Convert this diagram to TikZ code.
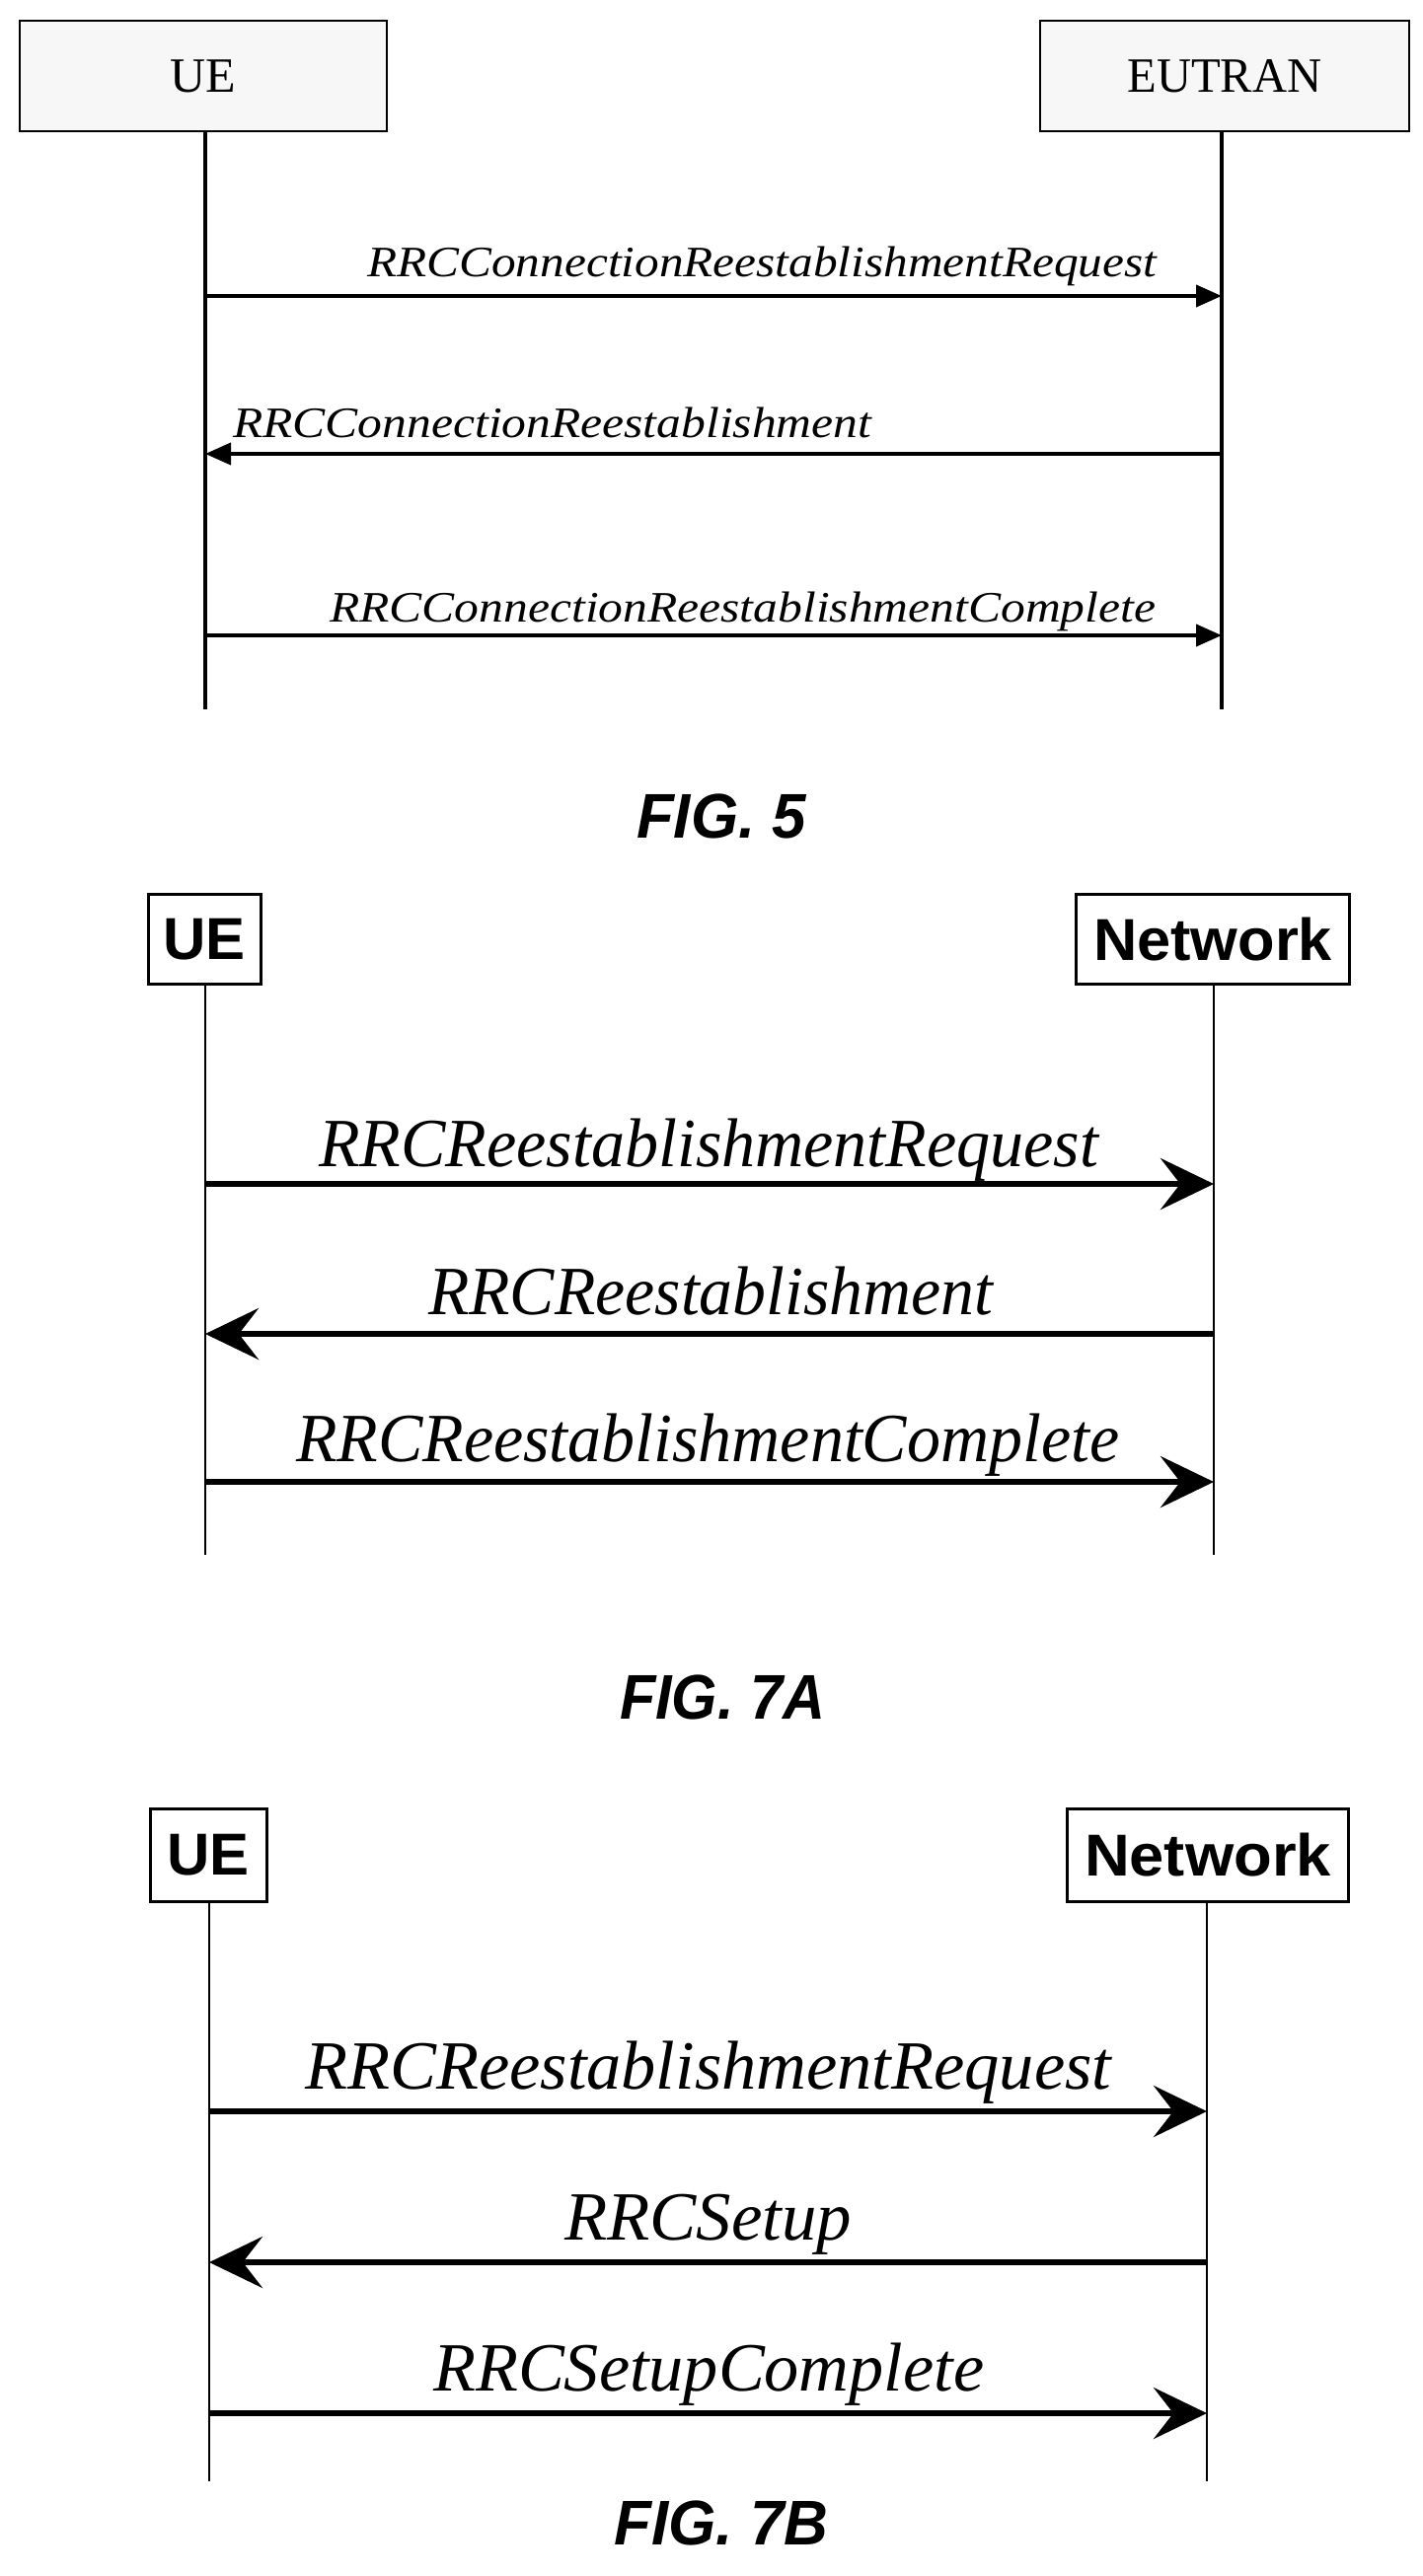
\documentclass[tikz,border=0pt]{standalone}
\usepackage{fontspec}
\setmainfont{Liberation Serif}
\setsansfont{Liberation Sans}
\usetikzlibrary{arrows.meta}
\newcommand\fitw[2]{\resizebox{#1pt}{\height}{#2}}
\begin{document}
\begin{tikzpicture}[x=1pt,y=-1pt,
  hbox5/.style={draw,line width=2pt,fill=gray!6,inner sep=0pt,font=\fontsize{50}{50}\selectfont},
  hbox7/.style={draw,line width=3pt,fill=white,inner sep=0pt,font=\sffamily\bfseries\fontsize{60}{60}\selectfont},
  life5/.style={line width=3.5pt},
  life7/.style={line width=2pt},
  msg5/.style={line width=4pt,-{Triangle[length=26pt,width=22pt]}},
  msg7/.style={line width=6pt,-{Stealth[length=54pt,width=52pt,inset=20pt]}},
  lab/.style={anchor=base west,inner sep=0pt},
  fig/.style={font=\sffamily\bfseries\itshape\fontsize{64}{64}\selectfont,inner sep=0pt}]
\useasboundingbox (0,0) rectangle (1441,2611);
% ---------- FIG 5
\node[hbox5,minimum width=372pt,minimum height=112pt] (ue5) at (206,77) {UE};
\node[hbox5,minimum width=374pt,minimum height=112pt] (eu5) at (1241,77) {\fitw{197}{EUTRAN}};
\coordinate (ue5e) at (208,719);
\coordinate (eu5e) at (1238,719);
\draw[life5] (208,133) -- (ue5e);
\draw[life5] (1238,133) -- (eu5e);
\coordinate (a1s) at (208,300); \coordinate (a1e) at (1238,300);
\coordinate (a2s) at (1238,460); \coordinate (a2e) at (208,460);
\coordinate (a3s) at (208,644); \coordinate (a3e) at (1238,644);
\draw[msg5] (a1s) -- (a1e);
\draw[msg5] (a2s) -- (a2e);
\draw[msg5] (a3s) -- (a3e);
\begin{scope}[font=\itshape\fontsize{44}{44}\selectfont]
\node[lab] (l1) at (372,280) {\fitw{800}{RRCConnectionReestablishmentRequest}};
\node[lab] (l2) at (236,443) {\fitw{647}{RRCConnectionReestablishment}};
\node[lab] (l3) at (334,630) {\fitw{837}{RRCConnectionReestablishmentComplete}};
\end{scope}
\node[fig] (f5) at (731,827) {\fitw{172}{FIG. 5}};
% ---------- FIG 7A
\node[hbox7,minimum width=114pt,minimum height=91pt] (ue7a) at (207,952) {UE};
\node[hbox7,minimum width=277pt,minimum height=91pt] (nw7a) at (1229,952) {\fitw{242}{Network}};
\coordinate (ue7ae) at (208,1576);
\coordinate (nw7ae) at (1230,1576);
\draw[life7] (ue7a.south -| ue7ae) -- (ue7ae);
\draw[life7] (nw7a.south -| nw7ae) -- (nw7ae);
\coordinate (b1s) at (208,1200); \coordinate (b1e) at (1230,1200);
\coordinate (b2s) at (1230,1352); \coordinate (b2e) at (208,1352);
\coordinate (b3s) at (208,1502); \coordinate (b3e) at (1230,1502);
\draw[msg7] (b1s) -- (b1e);
\draw[msg7] (b2s) -- (b2e);
\draw[msg7] (b3s) -- (b3e);
\begin{scope}[font=\itshape\fontsize{70}{70}\selectfont]
\node[lab] (m1) at (323,1182) {\fitw{790}{RRCReestablishmentRequest}};
\node[lab] (m2) at (434,1332) {\fitw{572}{RRCReestablishment}};
\node[lab] (m3) at (300,1481) {\fitw{834}{RRCReestablishmentComplete}};
\end{scope}
\node[fig] (f7a) at (732,1720) {\fitw{208}{FIG. 7A}};
% ---------- FIG 7B
\node[hbox7,minimum width=118pt,minimum height=94pt] (ue7b) at (211,1880) {UE};
\node[hbox7,minimum width=285pt,minimum height=94pt] (nw7b) at (1224,1880) {\fitw{250}{Network}};
\coordinate (ue7be) at (212,2515);
\coordinate (nw7be) at (1223,2515);
\draw[life7] (ue7b.south -| ue7be) -- (ue7be);
\draw[life7] (nw7b.south -| nw7be) -- (nw7be);
\coordinate (c1s) at (212,2140); \coordinate (c1e) at (1223,2140);
\coordinate (c2s) at (1223,2293); \coordinate (c2e) at (212,2293);
\coordinate (c3s) at (212,2446); \coordinate (c3e) at (1223,2446);
\draw[msg7] (c1s) -- (c1e);
\draw[msg7] (c2s) -- (c2e);
\draw[msg7] (c3s) -- (c3e);
\begin{scope}[font=\itshape\fontsize{70}{70}\selectfont]
\node[lab] (n1) at (309,2117) {\fitw{817}{RRCReestablishmentRequest}};
\node[lab] (n2) at (572,2270) {\fitw{291}{RRCSetup}};
\node[lab] (n3) at (439,2423) {\fitw{558}{RRCSetupComplete}};
\end{scope}
\node[fig] (f7b) at (731,2557) {\fitw{217}{FIG. 7B}};
\end{tikzpicture}
\end{document}
